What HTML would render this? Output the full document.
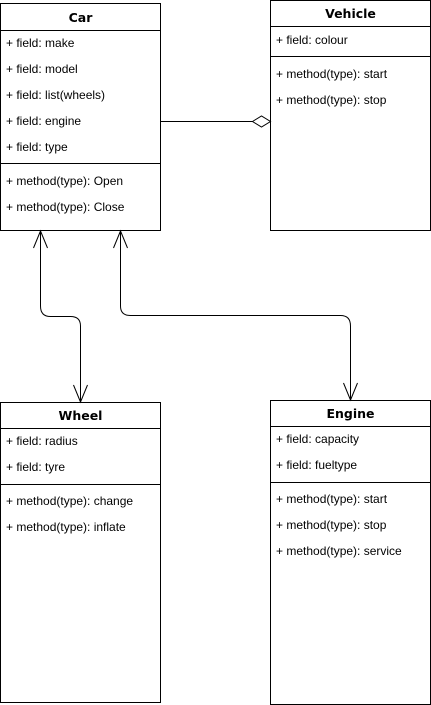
<!DOCTYPE html>
<html><head><meta charset="utf-8"><style>
html,body{margin:0;padding:0;background:#fff;width:431px;height:705px;overflow:hidden}
svg{display:block}
.f{font-family:"Liberation Sans",Arial,sans-serif;font-size:12px;fill:#000}
.t{font-family:"DejaVu Sans","Liberation Sans",sans-serif;font-size:12.5px;font-weight:bold;fill:#000}
</style></head><body>
<svg width="431" height="705" viewBox="0 0 431 705" xmlns="http://www.w3.org/2000/svg">
<g fill="none" stroke="#000" stroke-width="1">
<!-- Car -->
<rect x="0.5" y="3.5" width="160" height="227"/>
<line x1="0.5" y1="30.5" x2="160.5" y2="30.5"/>
<line x1="0.5" y1="163.5" x2="160.5" y2="163.5"/>
<!-- Vehicle -->
<rect x="270.5" y="0.5" width="160" height="230"/>
<line x1="270.5" y1="26.5" x2="430.5" y2="26.5"/>
<line x1="270.5" y1="56.5" x2="430.5" y2="56.5"/>
<!-- Wheel -->
<rect x="0.5" y="402.5" width="160" height="300"/>
<line x1="0.5" y1="428.5" x2="160.5" y2="428.5"/>
<line x1="0.5" y1="484.5" x2="160.5" y2="484.5"/>
<!-- Engine -->
<rect x="270.5" y="400.5" width="160" height="304"/>
<line x1="270.5" y1="426.5" x2="430.5" y2="426.5"/>
<line x1="270.5" y1="482.5" x2="430.5" y2="482.5"/>
<!-- aggregation -->
<line x1="160.5" y1="121.5" x2="252.5" y2="121.5"/>
<path d="M252.5 121.5 L261.5 116 L270.5 121.5 L261.5 127 Z" fill="#fff"/>
<!-- connector 1 -->
<path d="M40.5 231 L40.5 306 Q40.5 316.5 50.5 316.5 L70.5 316.5 Q80.5 316.5 80.5 326 L80.5 402"/>
<path d="M33.5 248 L40.5 231 L47.5 248"/>
<path d="M73.5 385 L80.5 402 L87.5 385"/>
<!-- connector 2 -->
<path d="M120.5 231 L120.5 306 Q120.5 315.5 130.5 315.5 L340.5 315.5 Q350.5 315.5 350.5 326 L350.5 400"/>
<path d="M113.5 248 L120.5 231 L127.5 248"/>
<path d="M343.5 383 L350.5 400 L357.5 383"/>
</g>
<text class="t" x="80.5" y="22" text-anchor="middle">Car</text>
<text class="f" x="6" y="47">+ field: make</text>
<text class="f" x="6" y="73">+ field: model</text>
<text class="f" x="6" y="99">+ field: list(wheels)</text>
<text class="f" x="6" y="125">+ field: engine</text>
<text class="f" x="6" y="151">+ field: type</text>
<text class="f" x="6" y="185">+ method(type): Open</text>
<text class="f" x="6" y="211">+ method(type): Close</text>

<text class="t" x="350.5" y="18" text-anchor="middle">Vehicle</text>
<text class="f" x="276" y="44">+ field: colour</text>
<text class="f" x="276" y="78">+ method(type): start</text>
<text class="f" x="276" y="104">+ method(type): stop</text>

<text class="t" x="80.5" y="420" text-anchor="middle">Wheel</text>
<text class="f" x="6" y="445">+ field: radius</text>
<text class="f" x="6" y="471">+ field: tyre</text>
<text class="f" x="6" y="505">+ method(type): change</text>
<text class="f" x="6" y="531">+ method(type): inflate</text>

<text class="t" x="350.5" y="418" text-anchor="middle">Engine</text>
<text class="f" x="276" y="443">+ field: capacity</text>
<text class="f" x="276" y="469">+ field: fueltype</text>
<text class="f" x="276" y="503">+ method(type): start</text>
<text class="f" x="276" y="529">+ method(type): stop</text>
<text class="f" x="276" y="555">+ method(type): service</text>
</svg>
</body></html>
